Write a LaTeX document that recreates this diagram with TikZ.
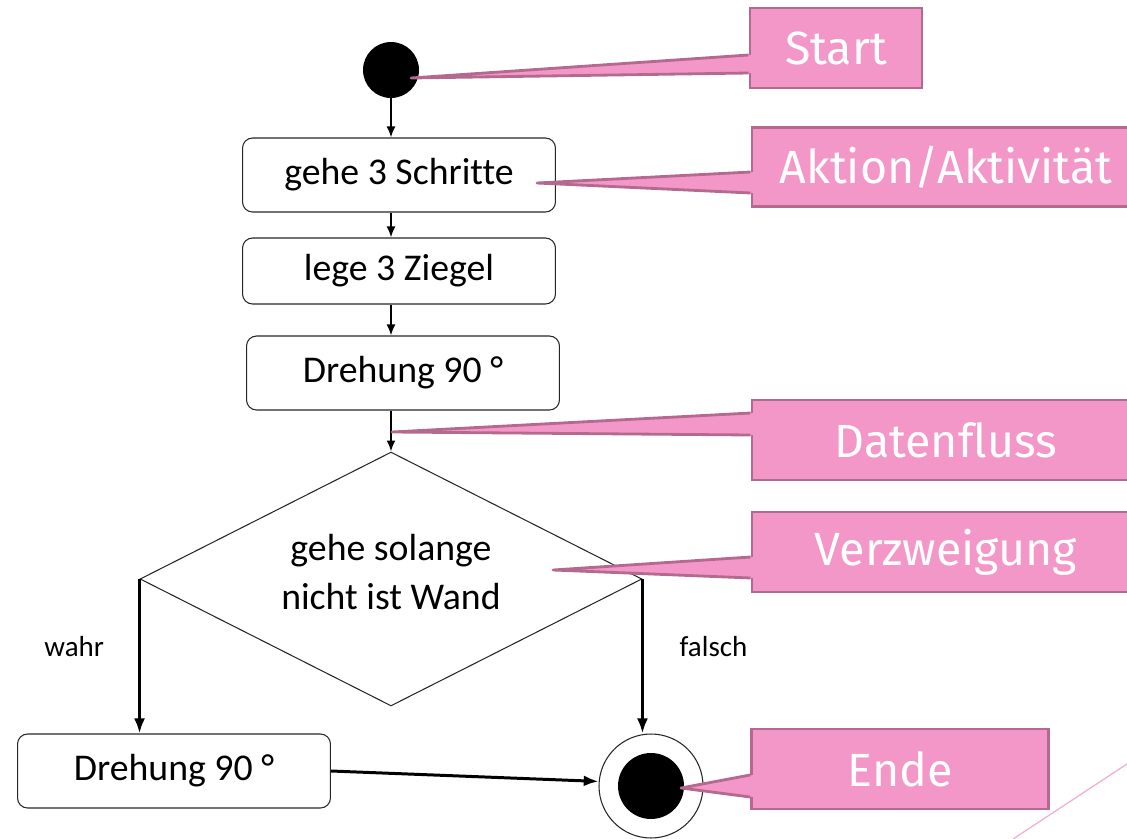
\documentclass[tikz,border=0pt]{standalone}
\usepackage{fontspec}
\setmainfont{Carlito}[Ligatures=CommonOff]
\newfontfamily\calloutfont{Fira Sans}[Ligatures=CommonOff]
\usepackage{xcolor}
\usepackage{tikz}
\usetikzlibrary{positioning,arrows.meta,shapes.geometric,calc}
\definecolor{callpink}{HTML}{F396C8}
\definecolor{calledge}{HTML}{B4698F}
\definecolor{decopink}{HTML}{F5AAD2}

\begin{document}
\begin{tikzpicture}[
  x=0.02cm, y=-0.02cm,
  act/.style={draw=black!85, rounded corners=0.2cm, minimum width=6.26cm, minimum height=1.48cm, align=center, font=\fontsize{21.5}{25}\selectfont, line width=0.6pt},
  dec/.style={draw=black!85, diamond, aspect=2, inner sep=0pt, minimum width=10.04cm, minimum height=5.08cm, line width=0.6pt},
  dectext/.style={align=center, font=\fontsize{21.5}{27.8}\selectfont},
  flow/.style={-{Latex[length=2.2mm,width=1.8mm]}, line width=1.1pt},
  bigflow/.style={-{Latex[length=3mm,width=2.2mm]}, line width=1.7pt},
  lbl/.style={font=\fontsize{16.5}{19}\selectfont},
  note/.style={draw=calledge, fill=callpink, line width=1.6pt, text=white, font=\calloutfont\fontsize{26.5}{30}\selectfont, inner sep=0pt},
  tip/.style={fill=callpink},
  tipedge/.style={draw=calledge, line width=1.6pt, line join=round}
]
\path[use as bounding box, clip] (0,0) rectangle (1127,839);

% Aktivitaetsdiagramm
\node[circle, fill=black, minimum size=1.12cm, inner sep=0pt] (start) at (391,70) {};
\node[act] (schritte) at (399,175) {gehe 3 Schritte};
\node[act, minimum height=1.32cm] (ziegel) at (399,271) {lege 3 Ziegel};
\node[act] (drehung) at (403,373) {Drehung 90 °};
\node[dec] (wand) at (391,579) {};
\node[dectext] (wandtext) at (391,572) {gehe solange\\nicht ist Wand};
\node[act] (drehung2) at (174,771) {Drehung 90 °};
\node[circle, draw=black!85, line width=0.6pt, minimum size=2.08cm, inner sep=0pt] (ende) at (651,786) {};
\node[circle, fill=black, minimum size=1.32cm, inner sep=0pt] (endkern) at (ende) {};

\draw[flow] (start.south) -- (start.south |- schritte.north);
\draw[flow] (schritte.south -| start) -- (ziegel.north -| start);
\draw[flow] (ziegel.south -| start) -- (drehung.north -| start);
\draw[flow] (drehung.south -| start) -- (wand.north);
\draw[bigflow] (wand.west) -- (wand.west |- drehung2.north) node[lbl, pos=0.44, left=16pt] {wahr};
\draw[bigflow] (wand.east) -- (wand.east |- ende.north) node[lbl, pos=0.44, right=17pt] {falsch};
\draw[bigflow] (drehung2.east) -- (ende.175);

% Legende (Sprechblasen)
\node[note, minimum width=3.44cm, minimum height=1.6cm] (nStart) at (836,48) {Start};
\node[note, minimum width=7.76cm, minimum height=1.58cm] (nAktion) at (946,167) {Aktion/Aktivität};
\node[note, minimum width=7.76cm, minimum height=1.6cm] (nFluss) at (946,440) {Datenfluss};
\node[note, minimum width=7.76cm, minimum height=1.6cm] (nZweig) at (946,552) {Verzweigung};
\node[note, minimum width=5.94cm, minimum height=1.6cm] (nEnde) at (900,769) {Ende};

\coordinate (pStart)  at (411,78);
\coordinate (pAktion) at (537,183);
\coordinate (pFluss)  at (392,432);
\coordinate (pZweig)  at (553,570);
\coordinate (pEnde)   at (681,788);

\fill[tip] ($(nStart.west)+(3,7)$) -- (pStart) -- ($(nStart.west)+(3,25)$) -- cycle;
\draw[tipedge] ($(nStart.west)+(0,7)$) -- (pStart) -- ($(nStart.west)+(0,25)$);
\fill[tip] ($(nAktion.west)+(3,5)$) -- (pAktion) -- ($(nAktion.west)+(3,26)$) -- cycle;
\draw[tipedge] ($(nAktion.west)+(0,5)$) -- (pAktion) -- ($(nAktion.west)+(0,26)$);
\fill[tip] ($(nFluss.west)+(3,-27)$) -- (pFluss) -- ($(nFluss.west)+(3,-5)$) -- cycle;
\draw[tipedge] ($(nFluss.west)+(0,-27)$) -- (pFluss) -- ($(nFluss.west)+(0,-5)$);
\fill[tip] ($(nZweig.west)+(3,5)$) -- (pZweig) -- ($(nZweig.west)+(3,26)$) -- cycle;
\draw[tipedge] ($(nZweig.west)+(0,5)$) -- (pZweig) -- ($(nZweig.west)+(0,26)$);
\fill[tip] ($(nEnde.west)+(3,6)$) -- (pEnde) -- ($(nEnde.west)+(3,28)$) -- cycle;
\draw[tipedge] ($(nEnde.west)+(0,6)$) -- (pEnde) -- ($(nEnde.west)+(0,28)$);

% Zierlinie
\draw[decopink, line width=0.7pt] (1013,839) -- (1127,764);
\end{tikzpicture}
\end{document}
